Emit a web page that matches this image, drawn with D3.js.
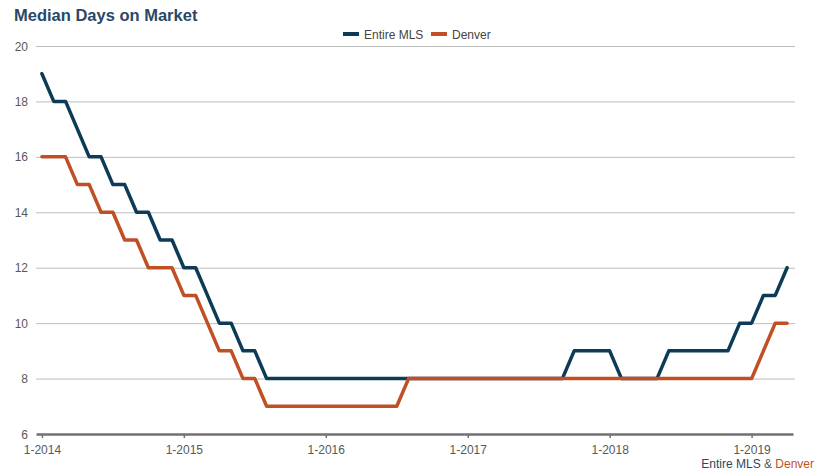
<!DOCTYPE html>
<html><head><meta charset="utf-8">
<script src="https://cdn.jsdelivr.net/npm/d3@7"></script>
<style>
body{margin:0;background:#fff;}
svg{display:block;font-family:"Liberation Sans",Arial,sans-serif;}
</style></head>
<body>
<svg id="chart" width="828" height="474"></svg>
<script>
const months = d3.range(64).map(i => {
  const y = 2014 + Math.floor(i / 12), m = i % 12 + 1;
  return m + "-" + y;
});
const entireMLS = [19,18,18,17,16,16,15,15,14,14,13,13,
  12,12,11,10,10,9,9,8,8,8,8,8,
  8,8,8,8,8,8,8,8,8,8,8,8,
  8,8,8,8,8,8,8,8,8,9,9,9,
  9,8,8,8,8,9,9,9,9,9,9,10,
  10,11,11,12];
const denver = [16,16,16,15,15,14,14,13,13,12,12,12,
  11,11,10,9,9,8,8,7,7,7,7,7,
  7,7,7,7,7,7,7,8,8,8,8,8,
  8,8,8,8,8,8,8,8,8,8,8,8,
  8,8,8,8,8,8,8,8,8,8,8,8,
  8,9,10,10];
const yTicks = [6,8,10,12,14,16,18,20];
const xTickLabels = ["1-2014","1-2015","1-2016","1-2017","1-2018","1-2019"];
const seriesNames = ["Entire MLS","Denver"];
const colors = ["#0d3b57","#c04f26"];

const svg = d3.select("#chart");
const x = d3.scaleLinear().domain([-0.5, 63.5]).range([36, 793]);
const y = d3.scaleLinear().domain([6, 20]).range([434, 46]);

// title
svg.append("text").attr("x", 14).attr("y", 21)
  .attr("font-size", 16.5).attr("font-weight", "bold").attr("fill", "#2a4866")
  .text("Median Days on Market");

// gridlines
svg.append("g").selectAll("line").data(yTicks.filter(d => d > 6)).join("line")
  .attr("x1", 36).attr("x2", 795)
  .attr("y1", d => y(d) + 0.5).attr("y2", d => y(d) + 0.5)
  .attr("stroke", "#bdbdbd").attr("stroke-width", 1);

// y labels
svg.append("g").selectAll("text").data(yTicks).join("text")
  .attr("x", 28).attr("y", d => y(d) + 4.5)
  .attr("text-anchor", "end").attr("font-size", 12).attr("fill", "#595959")
  .text(d => d);

// x axis
const xAxis = d3.axisBottom(x)
  .tickValues(xTickLabels.map(l => months.indexOf(l)))
  .tickFormat(i => months[i]).tickSizeInner(4).tickSizeOuter(0);
const gx = svg.append("g").attr("transform", "translate(0,434)").call(xAxis);
gx.select(".domain").attr("stroke", "#707070").attr("stroke-width", 2.5);
gx.selectAll(".tick line").attr("stroke", "#707070").attr("stroke-width", 1.5);
gx.selectAll(".tick text").attr("font-size", 12).attr("fill", "#595959")
  .attr("font-family", "Liberation Sans, Arial, sans-serif").attr("dy", "0.6em").attr("y", 13);

// lines
const line = d3.line().x((d, i) => x(i)).y(d => y(d));
[entireMLS, denver].forEach((s, k) => {
  svg.append("path").datum(s).attr("d", line)
    .attr("fill", "none").attr("stroke", colors[k]).attr("stroke-width", 3.5)
    .attr("stroke-linejoin", "round").attr("stroke-linecap", "round");
});

// legend
const legend = svg.append("g");
const lx = [343, 431];
seriesNames.forEach((n, k) => {
  legend.append("rect").attr("x", lx[k]).attr("y", 32).attr("width", 16).attr("height", 4)
    .attr("fill", colors[k]);
  legend.append("text").attr("x", lx[k] + 21).attr("y", 38.5)
    .attr("font-size", 12).attr("fill", "#444").text(n);
});

// credit
const cr = svg.append("text").attr("x", 814).attr("y", 468).attr("text-anchor", "end")
  .attr("font-size", 12);
cr.append("tspan").attr("fill", "#2a4866").text("Entire MLS");
cr.append("tspan").attr("fill", "#555").text(" & ");
cr.append("tspan").attr("fill", "#c04f26").text("Denver");
</script>
</body></html>
